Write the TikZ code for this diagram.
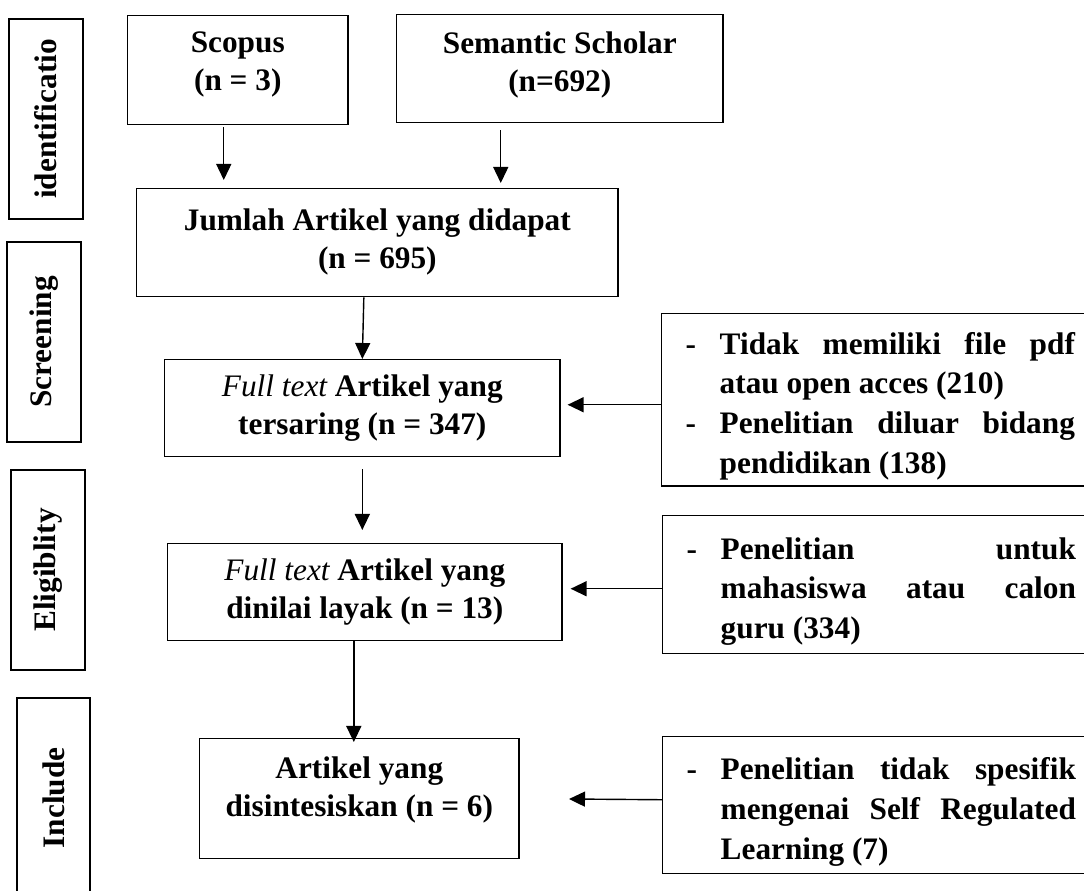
\documentclass[tikz,border=0pt]{standalone}
\usepackage{fontspec}
\setmainfont{Liberation Serif}
\usetikzlibrary{arrows.meta}

\newcommand{\spreadline}[1]{\makebox[3.55cm][s]{#1}}

\tikzset{
  box/.style={draw, line width=0.4pt, align=center, inner sep=0pt, anchor=north west,
    font=\bfseries\fontsize{8.9}{10.8}\selectfont},
  stage/.style={draw, line width=0.4pt, rotate=90, inner sep=0pt, minimum width=2cm,
    minimum height=0.74cm, font=\bfseries\fontsize{8.9}{10.5}\selectfont},
  note/.style={draw, line width=0.4pt, anchor=north west, inner xsep=0.24cm, inner ysep=0pt,
    minimum width=4.37cm, font=\bfseries\fontsize{8.9}{11.3}\selectfont},
  arr/.style={-{Triangle[length=1.6mm,width=1.5mm]}, line width=0.4pt}
}

\begin{document}
\begin{tikzpicture}[x=0.01cm, y=-0.01cm]
\useasboundingbox (0,0) rectangle (1084,891);

% stages on the left
\node[stage] (ident) at (46,119) {identificatio};
\node[stage] (screen) at (44,342) {Screening};
\node[stage] (elig) at (48,570) {Eligiblity};
\node[stage, minimum height=0.73cm] (incl) at (53.5,798) {Include};

% main flow
\node[box, minimum width=2.2cm, minimum height=1.09cm, text depth=0.18cm] (scopus) at (127,15)
  {Scopus\\(n = 3)};
\node[box, minimum width=3.26cm, minimum height=1.08cm, text depth=0.15cm] (semantic) at (396,14)
  {Semantic Scholar\\(n=692)};
\node[box, minimum width=4.81cm, minimum height=1.08cm, text depth=0.09cm] (jumlah) at (136,188)
  {Jumlah Artikel yang didapat\\(n = 695)};
\node[box, minimum width=3.95cm, minimum height=0.97cm] (tersaring) at (164,359)
  {{\mdseries\itshape Full text} Artikel yang\\tersaring (n = 347)};
\node[box, minimum width=3.94cm, minimum height=0.97cm] (layak) at (167,543)
  {{\mdseries\itshape Full text} Artikel yang\\dinilai layak (n = 13)};
\node[box, minimum width=3.19cm, minimum height=1.2cm, text depth=0.24cm] (sintesis) at (199,738)
  {Artikel yang\\disintesiskan (n = 6)};

% excluded records
\node[note, minimum height=1.72cm] (excl1) at (661,313) {%
  \begin{tabular}{@{}p{0.34cm}@{}p{3.55cm}@{}}
  -\rule{0pt}{0.4cm} & \spreadline{Tidak memiliki file pdf}\\
    & atau open acces (210)\\
  - & \spreadline{Penelitian diluar bidang}\\
    & pendidikan (138)
  \end{tabular}};
\node[note, minimum height=1.38cm] (excl2) at (662,515) {%
  \begin{tabular}{@{}p{0.34cm}@{}p{3.55cm}@{}}
  -\rule{0pt}{0.4cm} & \spreadline{Penelitian untuk}\\
    & \spreadline{mahasiswa atau calon}\\
    & guru (334)
  \end{tabular}};
\node[note, minimum height=1.37cm] (excl3) at (662,736) {%
  \begin{tabular}{@{}p{0.34cm}@{}p{3.55cm}@{}}
  -\rule{0pt}{0.4cm} & \spreadline{Penelitian tidak spesifik}\\
    & \spreadline{mengenai Self Regulated}\\
    & Learning (7)
  \end{tabular}};
\coordinate (tip3) at (569,799);

% arrows
\draw[arr, shorten <=0.02cm, shorten >=0.08cm] ([xshift=-0.14cm]scopus.south) -- ([xshift=-0.14cm]scopus.south |- jumlah.north);
\draw[arr, shorten <=0.07cm, shorten >=0.05cm] ([xshift=-0.59cm]semantic.south) -- ([xshift=-0.59cm]semantic.south |- jumlah.north);
\draw[arr] ([xshift=-0.135cm]jumlah.south) -- (tersaring.north);
\draw[arr, shorten <=0.12cm, shorten >=0.13cm] (tersaring.south) -- (tersaring.south |- layak.north);
\draw[arr, shorten >=-0.04cm] ([xshift=-0.11cm]layak.south) -- ([xshift=-0.11cm]layak.south |- sintesis.north);
\draw[arr, shorten >=0.07cm] ([yshift=-0.05cm]excl1.west) -- ([yshift=-0.05cm]excl1.west -| tersaring.east);
\draw[arr, shorten >=0.08cm] ([yshift=-0.04cm]excl2.west) -- ([yshift=-0.04cm]excl2.west -| layak.east);
\draw[arr] ([yshift=0.055cm]excl3.west) -- (tip3);
\end{tikzpicture}
\end{document}
